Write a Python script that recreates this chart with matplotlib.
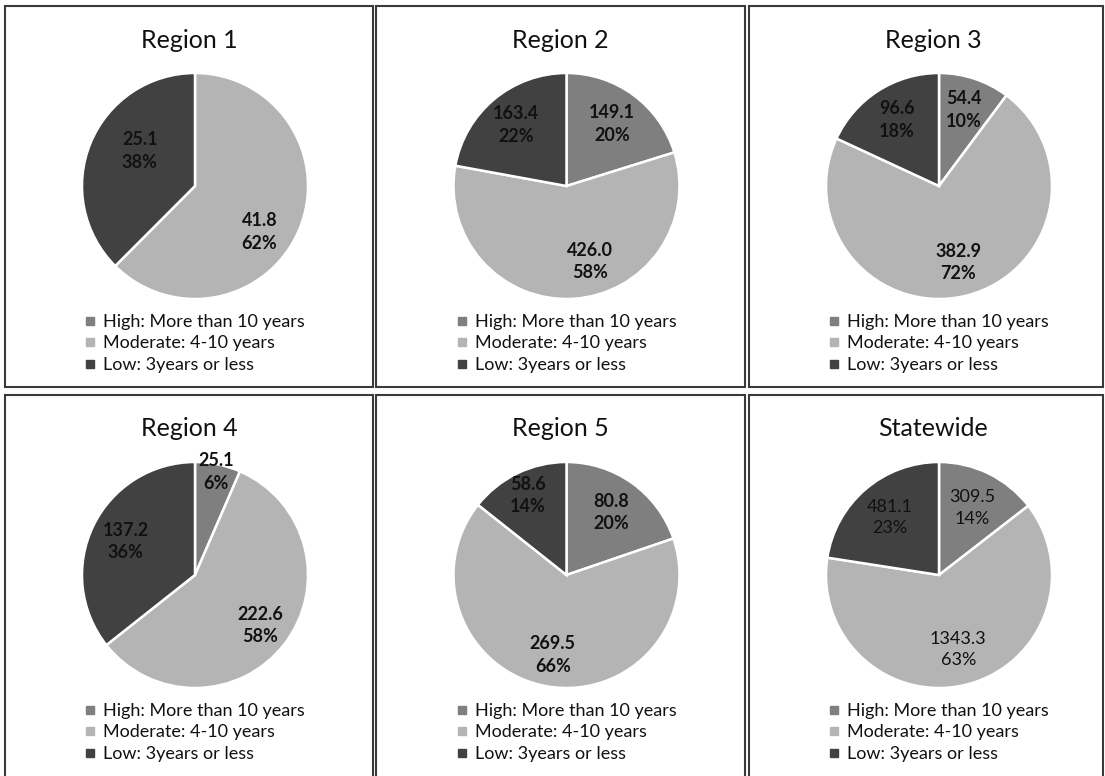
import matplotlib
matplotlib.use("Agg")
import matplotlib.pyplot as plt
from matplotlib.patches import Rectangle
from matplotlib.lines import Line2D
import numpy as np

# ---- data -------------------------------------------------------------
categories = ["High: More than 10 years", "Moderate: 4-10 years", "Low: 3years or less"]
panel_titles = ["Region 1", "Region 2", "Region 3", "Region 4", "Region 5", "Statewide"]

region1_values = [0.0, 41.8, 25.1]
region2_values = [149.1, 426.0, 163.4]
region3_values = [54.4, 382.9, 96.6]
region4_values = [25.1, 222.6, 137.2]
region5_values = [80.8, 269.5, 58.6]
statewide_values = [309.5, 1343.3, 481.1]

region1_pct = [0, 62, 38]
region2_pct = [20, 58, 22]
region3_pct = [10, 72, 18]
region4_pct = [6, 58, 36]
region5_pct = [20, 66, 14]
statewide_pct = [14, 63, 23]

# ---- styling ----------------------------------------------------------
colors = ["#7f7f7f", "#b4b4b4", "#414141"]
FONT = ["Lato", "DejaVu Sans"]
plt.rcParams["font.family"] = FONT

W, H = 1105, 776
fig = plt.figure(figsize=(W / 100, H / 100), dpi=100)
fig.patch.set_facecolor("white")


def fx(x):
    return x / W


def fy(y):
    return 1 - y / H


panel_values = [region1_values, region2_values, region3_values,
                region4_values, region5_values, statewide_values]
panel_pcts = [region1_pct, region2_pct, region3_pct,
              region4_pct, region5_pct, statewide_pct]

# panel frames (left, right) per column and (top, bottom) per row, in pixels
col_edges = [(5, 373), (376, 745), (749, 1103)]
row_edges = [(6, 387), (395, 782)]
pie_cx = [195, 566.5, 939]
pie_cy = [186, 575]
R = 113  # pie radius in pixels

# radial placement of the value labels (fraction of radius) and an angular
# nudge in degrees (counter-clockwise) off the wedge bisector
label_radius = [
    [0.70, 0.70, 0.58],
    [0.68, 0.70, 0.70],
    [0.71, 0.70, 0.69],
    [0.93, 0.73, 0.68],
    [0.68, 0.72, 0.78],
    [0.66, 0.68, 0.67],
]
label_turn = [
    [0, -13, -10],
    [0, 14, 0],
    [0, 0, 0],
    [0, 0, 0],
    [0, 0, 0],
    [0, 0, 0],
]
bold_labels = [True, True, True, True, True, False]

for i, (title, vals, pcts) in enumerate(zip(panel_titles, panel_values, panel_pcts)):
    r, c = divmod(i, 3)
    x0, x1 = col_edges[c]
    y0, y1 = row_edges[r]
    fig.add_artist(Rectangle((fx(x0), fy(y1)), fx(x1 - x0), (y1 - y0) / H,
                             transform=fig.transFigure, fill=False,
                             edgecolor="#3a3a3a", linewidth=1.5))

    cx, cy = pie_cx[c], pie_cy[r]
    half = 1.15 * R
    ax = fig.add_axes([fx(cx - half), fy(cy + half), 2 * half / W, 2 * half / H])
    wedges, _ = ax.pie(vals, colors=colors, startangle=90, counterclock=False,
                       radius=1.0,
                       wedgeprops=dict(edgecolor="white", linewidth=1.8))
    ax.set_xlim(-1.15, 1.15)
    ax.set_ylim(-1.15, 1.15)
    ax.set_aspect("equal")
    ax.axis("off")

    for k, (w, v, p) in enumerate(zip(wedges, vals, pcts)):
        if v <= 0:
            continue
        mid = np.deg2rad((w.theta1 + w.theta2) / 2 + label_turn[i][k])
        d = label_radius[i][k]
        ax.text(d * np.cos(mid), d * np.sin(mid), f"{v:.1f}\n{p}%",
                ha="center", va="center", fontsize=13,
                fontweight="bold" if bold_labels[i] else "normal",
                color="#111111", linespacing=1.4)

    fig.text(fx(cx - 6), fy(cy - 146), title, ha="center", va="center",
             fontsize=18, color="#111111")

    handles = [Line2D([], [], marker="s", linestyle="", markersize=6,
                      markerfacecolor=col, markeredgecolor=col) for col in colors]
    fig.legend(handles, categories, loc="upper left",
               bbox_to_anchor=(fx(cx - 110), fy(cy + 128)),
               bbox_transform=fig.transFigure, frameon=False,
               fontsize=13, handlelength=0.6, handletextpad=0.4,
               labelspacing=0.3, borderpad=0, borderaxespad=0,
               labelcolor="#111111")

fig.savefig("out.png", dpi=100, facecolor="white")
